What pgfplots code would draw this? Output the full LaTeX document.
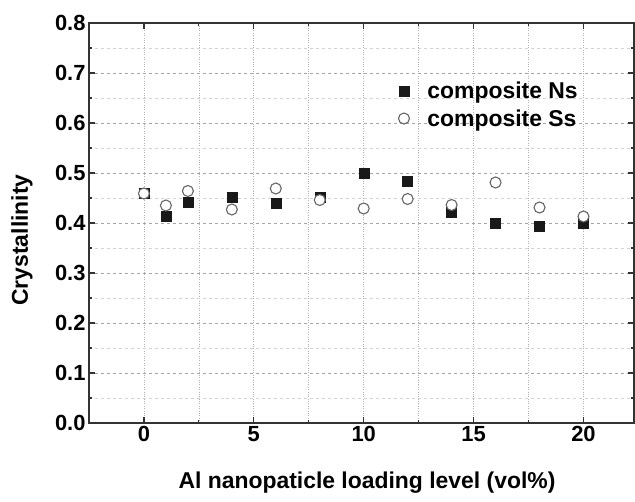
\documentclass[border=0pt]{standalone}
\usepackage{fontspec}
\setmainfont{Liberation Sans}
\usepackage{pgfplots}
\pgfplotsset{compat=1.18}
\begin{document}
\begin{tikzpicture}[x=1bp,y=1bp]
\useasboundingbox (0,0) rectangle (635,502);
\begin{axis}[
  at={(89bp,79bp)}, anchor=south west,
  scale only axis, width=545bp, height=400bp,
  xmin=-2.5, xmax=22.3, ymin=0, ymax=0.8,
  xtick={0,5,10,15,20},
  minor xtick={2.5,7.5,12.5,17.5},
  ytick={0,0.1,0.2,0.3,0.4,0.5,0.6,0.7,0.8},
  minor ytick={0.05,0.15,0.25,0.35,0.45,0.55,0.65,0.75},
  yticklabel style={/pgf/number format/fixed,/pgf/number format/fixed zerofill,/pgf/number format/precision=1},
  /pgf/number format/assume math mode=true,
  tick align=inside, xtick pos=both, ytick pos=both,
  major tick length=6bp, minor tick length=3bp,
  tick style={black!80, line width=1.2bp},
  axis line style={black!80, line width=1.5bp},
  grid=both,
  major x grid style={gray!60, dotted, line width=0.7bp},
  minor x grid style={gray!60, dotted, line width=0.7bp},
  major y grid style={gray!70, dashed, line width=0.9bp},
  minor y grid style={gray!35, dashed, line width=0.7bp},
  tick label style={font=\fontsize{22}{24}\selectfont\bfseries},
  label style={font=\fontsize{23}{26}\selectfont\bfseries},
  xlabel={Al nanopaticle loading level (vol\%)},
  ylabel={Crystallinity},
  xlabel style={at={(axis description cs:0.51,-0.148)}, anchor=center},
  ylabel style={at={(axis description cs:-0.123,0.4575)}, anchor=center},
  legend style={draw=none, fill=none, at={(axis description cs:0.562,0.862)}, anchor=north west,
    font=\fontsize{23}{26}\selectfont\bfseries, row sep=5bp, column sep=16bp},
  legend cell align=left,
]
\addplot[only marks, mark=square*, mark size=5bp, mark options={fill=black!90, draw=black!90}]
  coordinates {(0,0.46) (1,0.414) (2,0.442) (4,0.451) (6,0.439) (8,0.451) (10,0.499) (12,0.484) (14,0.421) (16,0.400) (18,0.393) (20,0.400)};
\addlegendentry{composite Ns}
\addplot[only marks, mark=*, mark size=5.5bp, mark options={fill=white, draw=black!60, line width=1.1bp}]
  coordinates {(0,0.459) (1,0.435) (2,0.464) (4,0.427) (6,0.469) (8,0.446) (10,0.429) (12,0.448) (14,0.436) (16,0.481) (18,0.431) (20,0.413)};
\addlegendentry{composite Ss}
\end{axis}
\end{tikzpicture}
\end{document}
